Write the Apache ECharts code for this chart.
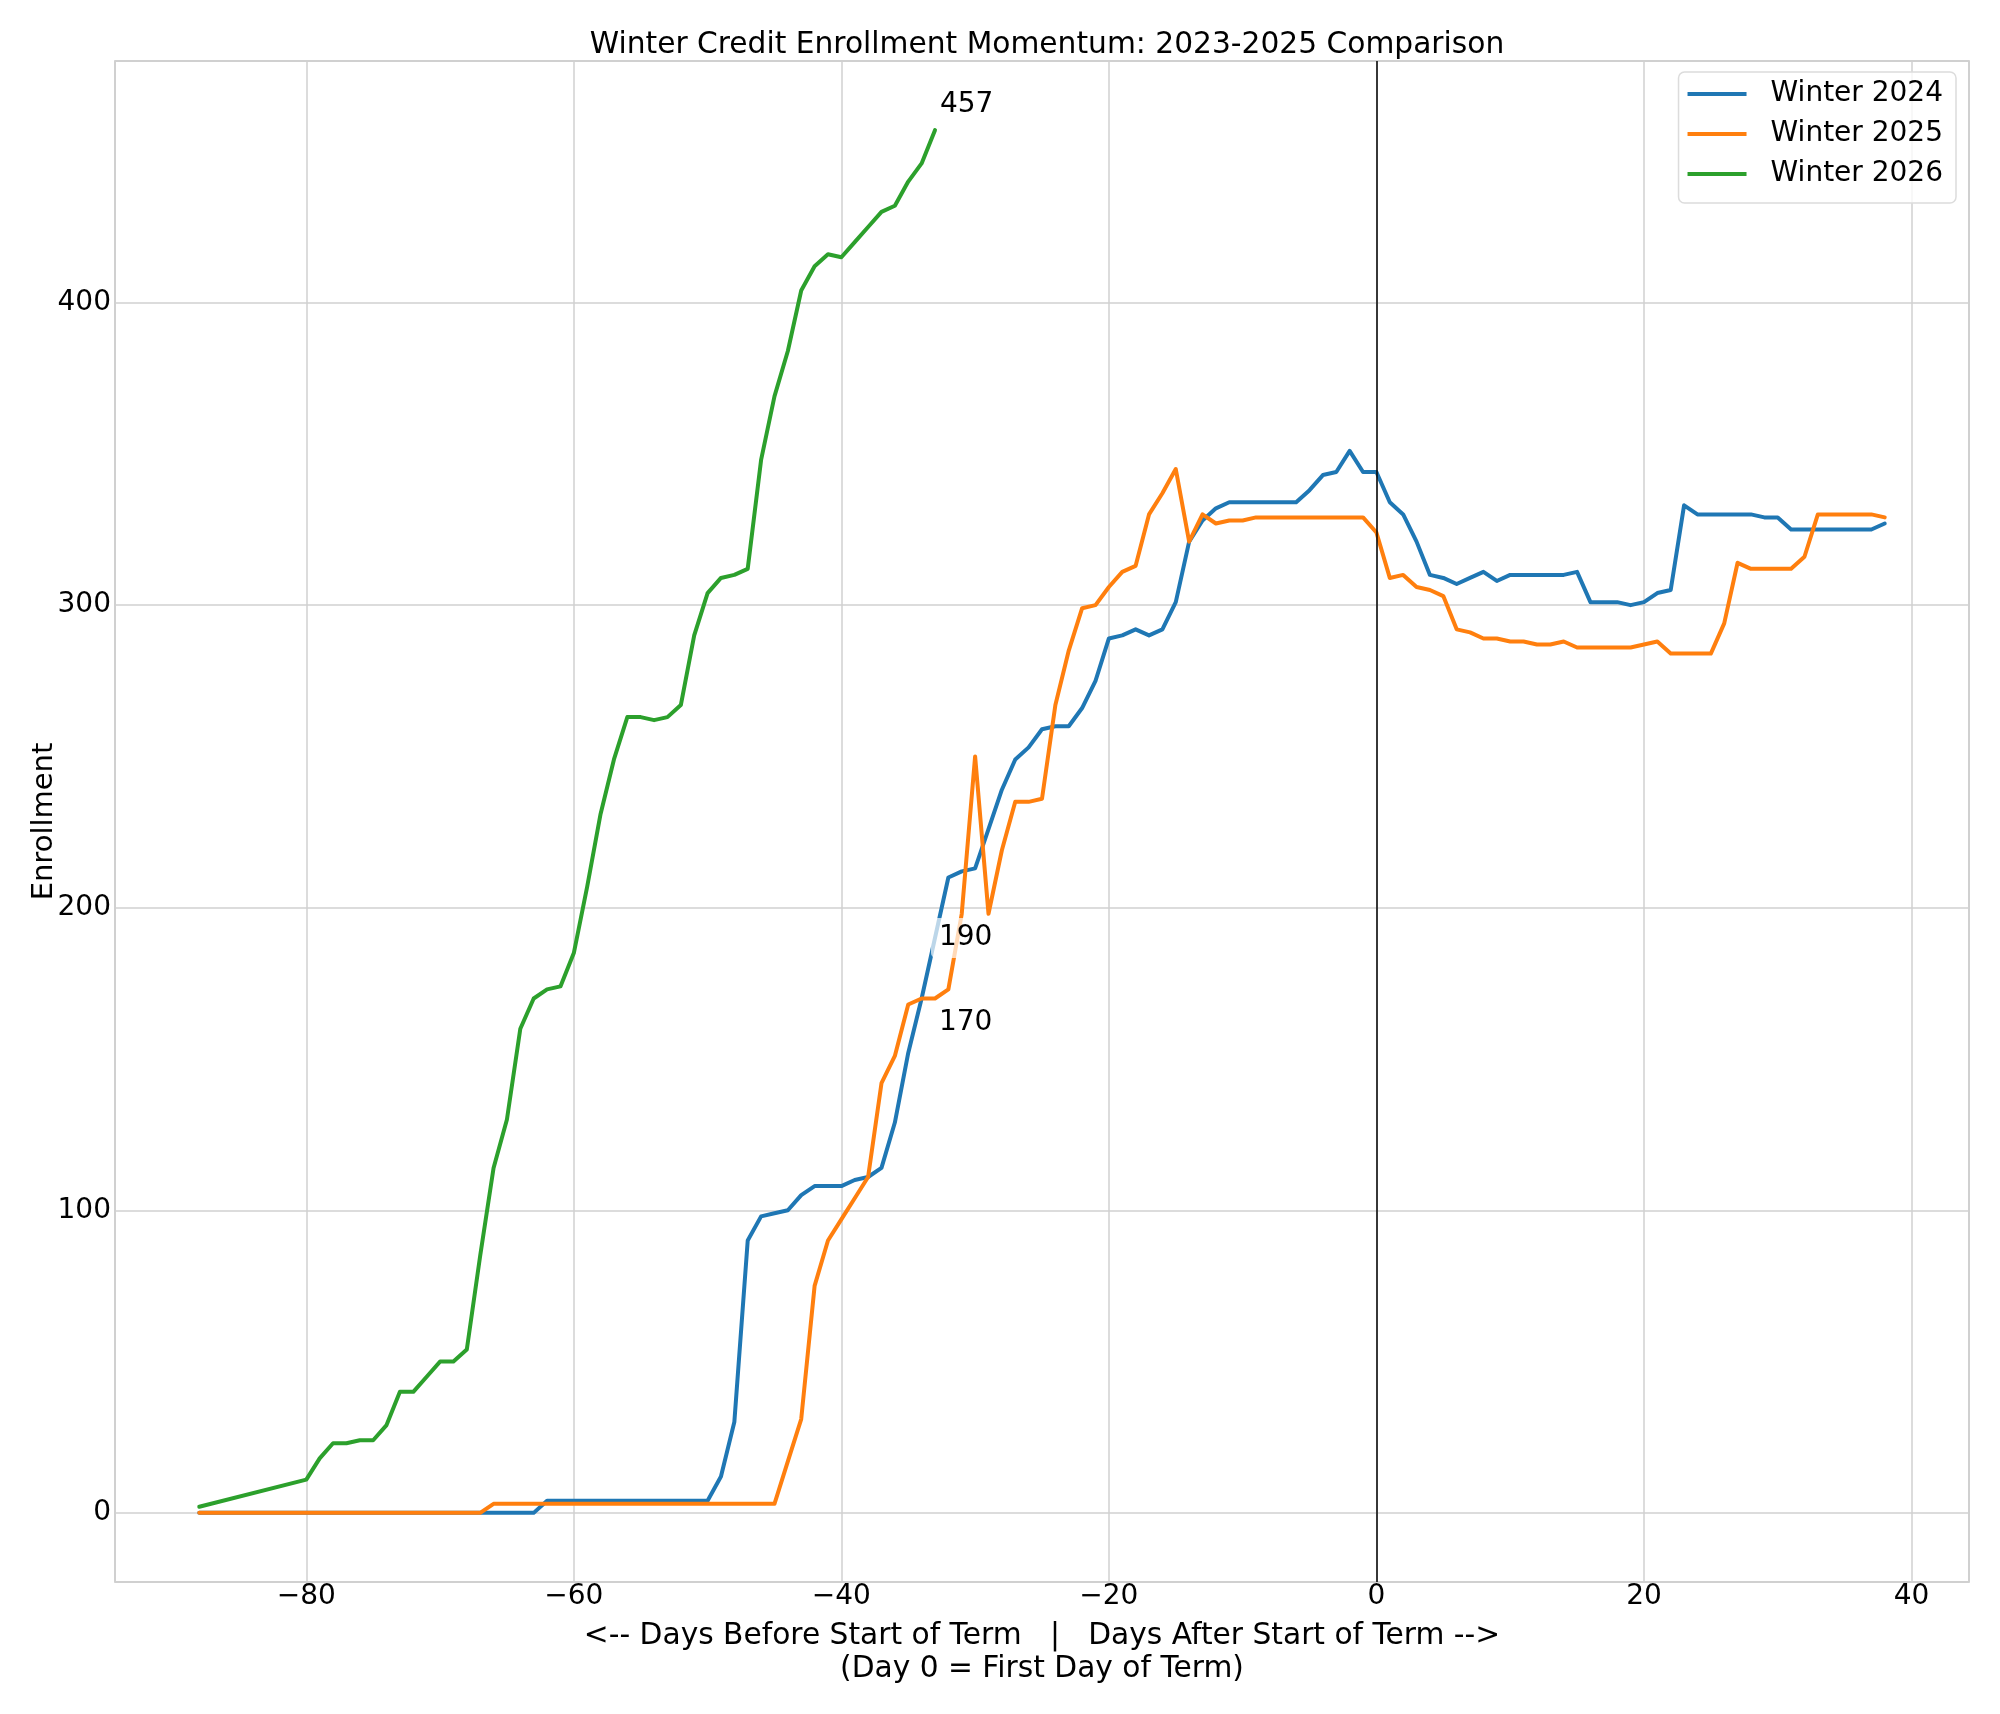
<!DOCTYPE html>
<html>
<head>
<meta charset="utf-8">
<script src="https://cdn.jsdelivr.net/npm/echarts@6/dist/echarts.min.js"></script>
<style>
  html, body { margin: 0; padding: 0; background: #ffffff; }
  #chart { width: 2000px; height: 1714px; }
</style>
</head>
<body>
<div id="chart"></div>
<script>
// ---------------- data ----------------
const chartTitle = 'Winter Credit Enrollment Momentum: 2023-2025 Comparison';
const xAxisTitle = '<-- Days Before Start of Term   |   Days After Start of Term -->\n(Day 0 = First Day of Term)';
const yAxisTitle = 'Enrollment';
const seriesNames = ['Winter 2024', 'Winter 2025', 'Winter 2026'];
const seriesColors = ['#1f77b4', '#ff7f0e', '#2ca02c'];

// days relative to first day of term (-88 .. 38) for Winter 2024 / 2025
const firstDay = -88;
const lastDay = 38;
const daysFull = [];
for (let d = firstDay; d <= lastDay; d++) daysFull.push(d);

const winter2024 = [
  0, 0, 0, 0, 0, 0, 0, 0, 0, 0,
  0, 0, 0, 0, 0, 0, 0, 0, 0, 0,
  0, 0, 0, 0, 0, 0, 4, 4, 4, 4,
  4, 4, 4, 4, 4, 4, 4, 4, 4, 12,
  30, 90, 98, 99, 100, 105, 108, 108, 108, 110,
  111, 114, 129, 152, 170, 190, 210, 212, 213, 226,
  239, 249, 253, 259, 260, 260, 266, 275, 289, 290,
  292, 290, 292, 301, 321, 328, 332, 334, 334, 334,
  334, 334, 334, 338, 343, 344, 351, 344, 344, 334,
  330, 321, 310, 309, 307, 309, 311, 308, 310, 310,
  310, 310, 310, 311, 301, 301, 301, 300, 301, 304,
  305, 333, 330, 330, 330, 330, 330, 329, 329, 325,
  325, 325, 325, 325, 325, 325, 327
];

const winter2025 = [
  0, 0, 0, 0, 0, 0, 0, 0, 0, 0,
  0, 0, 0, 0, 0, 0, 0, 0, 0, 0,
  0, 0, 3, 3, 3, 3, 3, 3, 3, 3,
  3, 3, 3, 3, 3, 3, 3, 3, 3, 3,
  3, 3, 3, 3, 17, 31, 75, 90, 97, 104,
  111, 142, 151, 168, 170, 170, 173, 198, 250, 198,
  219, 235, 235, 236, 267, 285, 299, 300, 306, 311,
  313, 330, 337, 345, 321, 330, 327, 328, 328, 329,
  329, 329, 329, 329, 329, 329, 329, 329, 324, 309,
  310, 306, 305, 303, 292, 291, 289, 289, 288, 288,
  287, 287, 288, 286, 286, 286, 286, 286, 287, 288,
  284, 284, 284, 284, 294, 314, 312, 312, 312, 312,
  316, 330, 330, 330, 330, 330, 329
];

const days2026 = [
  -88, -80, -79, -78, -77, -76, -75, -74, -73, -72, -71,
  -70, -69, -68, -67, -66, -65, -64, -63, -62, -61,
  -60, -59, -58, -57, -56, -55, -54, -53, -52, -51,
  -50, -49, -48, -47, -46, -45, -44, -43, -42, -41,
  -40, -39, -38, -37, -36, -35, -34, -33
];
const winter2026 = [
  2, 11, 18, 23, 23, 24, 24, 29, 40, 40, 45,
  50, 50, 54, 85, 114, 130, 160, 170, 173, 174,
  185, 207, 231, 249, 263, 263, 262, 263, 267, 290,
  304, 309, 310, 312, 348, 369, 384, 404, 412, 416,
  415, 420, 425, 430, 432, 440, 446, 457
];

// day on which current values are annotated (latest day of Winter 2026)
const annotationDay = days2026[days2026.length - 1];

// ---------------- build ----------------
const FONT = "'DejaVu Sans', 'Liberation Sans', sans-serif";
const TXT = '#000000';

function pairs(xs, ys) { return xs.map((x, i) => [x, ys[i]]); }
const seriesDays = [daysFull, daysFull, days2026];
const seriesVals = [winter2024, winter2025, winter2026];

// annotation label placement (style only)
const labelStyles = [
  { distance: -4, offset: [0, 0] },   // Winter 2024
  { distance: -4, offset: [0, 24] },  // Winter 2025
  { distance: -3, offset: [0, -25] }  // Winter 2026
];

const allDays = seriesDays.flat();
const allVals = seriesVals.flat();
const xMinData = Math.min(...allDays), xMaxData = Math.max(...allDays);
const yMinData = Math.min(...allVals), yMaxData = Math.max(...allVals);
const xPad = (xMaxData - xMinData) * 0.05, yPad = (yMaxData - yMinData) * 0.05;

const lineSeries = seriesNames.map((name, i) => {
  const s = {
    name: name,
    type: 'line',
    data: pairs(seriesDays[i], seriesVals[i]),
    showSymbol: false,
    symbol: 'none',
    lineStyle: { color: seriesColors[i], width: 4, join: 'round', cap: 'round' },
    itemStyle: { color: seriesColors[i] },
    emphasis: { disabled: true },
    z: 3 + i
  };
  if (i === 0) {
    s.markLine = {
      silent: true,
      symbol: ['none', 'none'],
      label: { show: false },
      lineStyle: { color: '#000000', width: 1.5, type: 'solid' },
      data: [{ xAxis: 0 }]
    };
  }
  return s;
});

const annotationData = seriesNames.map((name, i) => {
  const idx = seriesDays[i].indexOf(annotationDay);
  const v = seriesVals[i][idx];
  return {
    value: [annotationDay, v],
    label: {
      show: true,
      position: 'right',
      distance: labelStyles[i].distance,
      offset: labelStyles[i].offset,
      formatter: String(v)
    }
  };
});

const annotationSeries = {
  name: 'annotations',
  type: 'scatter',
  data: annotationData,
  symbolSize: 0,
  silent: true,
  z: 20,
  itemStyle: { opacity: 1, color: 'transparent' },
  label: {
    show: true,
    fontFamily: FONT,
    fontSize: 28,
    color: TXT,
    opacity: 1,
    backgroundColor: 'rgba(255,255,255,0.7)',
    padding: [6, 8, 6, 8],
    borderRadius: 5
  },
  emphasis: { disabled: true }
};

function fmtTick(step) {
  return function (v) {
    const r = Math.round(v);
    if (Math.abs(v - r) > 1e-6 || r % step !== 0) return '';
    return String(r).replace('-', '\u2212');
  };
}

const option = {
  animation: false,
  backgroundColor: '#ffffff',
  textStyle: { fontFamily: FONT },
  title: {
    text: chartTitle,
    left: 1042,
    textAlign: 'center',
    top: 25,
    textStyle: { fontFamily: FONT, fontSize: 29.7, fontWeight: 'normal', color: TXT, lineHeight: 30 }
  },
  legend: {
    data: seriesNames,
    orient: 'vertical',
    right: 44,
    top: 72,
    icon: 'rect',
    itemWidth: 59,
    itemHeight: 4,
    itemGap: 12,
    padding: [8, 13, 15, 9],
    backgroundColor: 'rgba(255,255,255,0.8)',
    borderColor: '#dcdcdc',
    borderWidth: 1.5,
    borderRadius: 6,
    textStyle: { fontFamily: FONT, fontSize: 28, color: TXT, lineHeight: 28, padding: [0, 0, 0, 19] }
  },
  grid: {
    left: 115, right: 31, top: 61, bottom: 132,
    show: true,
    borderColor: '#bdbdbd',
    borderWidth: 1.5,
    backgroundColor: 'transparent'
  },
  xAxis: {
    type: 'value',
    min: +(xMinData - xPad).toFixed(2),
    max: +(xMaxData + xPad).toFixed(2),
    splitNumber: 7,
    name: xAxisTitle,
    nameLocation: 'middle',
    nameGap: 38,
    nameMoveOverlap: false,
    nameTextStyle: { fontFamily: FONT, fontSize: 29.7, color: TXT, lineHeight: 33, align: 'center' },
    axisLine: { show: false },
    axisTick: { show: false },
    axisLabel: { fontFamily: FONT, fontSize: 28, color: TXT, margin: 1, formatter: fmtTick(20), showMinLabel: false, showMaxLabel: false },
    splitLine: { show: true, lineStyle: { color: '#d0d0d0', width: 1.5 } }
  },
  yAxis: {
    type: 'value',
    min: +(yMinData - yPad).toFixed(2),
    max: +(yMaxData + yPad).toFixed(2),
    splitNumber: 5,
    name: yAxisTitle,
    nameLocation: 'middle',
    nameGap: 56,
    nameMoveOverlap: false,
    nameRotate: 90,
    nameTextStyle: { fontFamily: FONT, fontSize: 29, color: TXT, lineHeight: 29 },
    axisLine: { show: false },
    axisTick: { show: false },
    axisLabel: { fontFamily: FONT, fontSize: 28, color: TXT, margin: 4, formatter: fmtTick(100), showMinLabel: false, showMaxLabel: false },
    splitLine: { show: true, lineStyle: { color: '#d0d0d0', width: 1.5 } }
  },
  series: lineSeries.concat([annotationSeries])
};

const chart = echarts.init(document.getElementById('chart'), null, { renderer: 'canvas' });
chart.setOption(option);
</script>
</body>
</html>
